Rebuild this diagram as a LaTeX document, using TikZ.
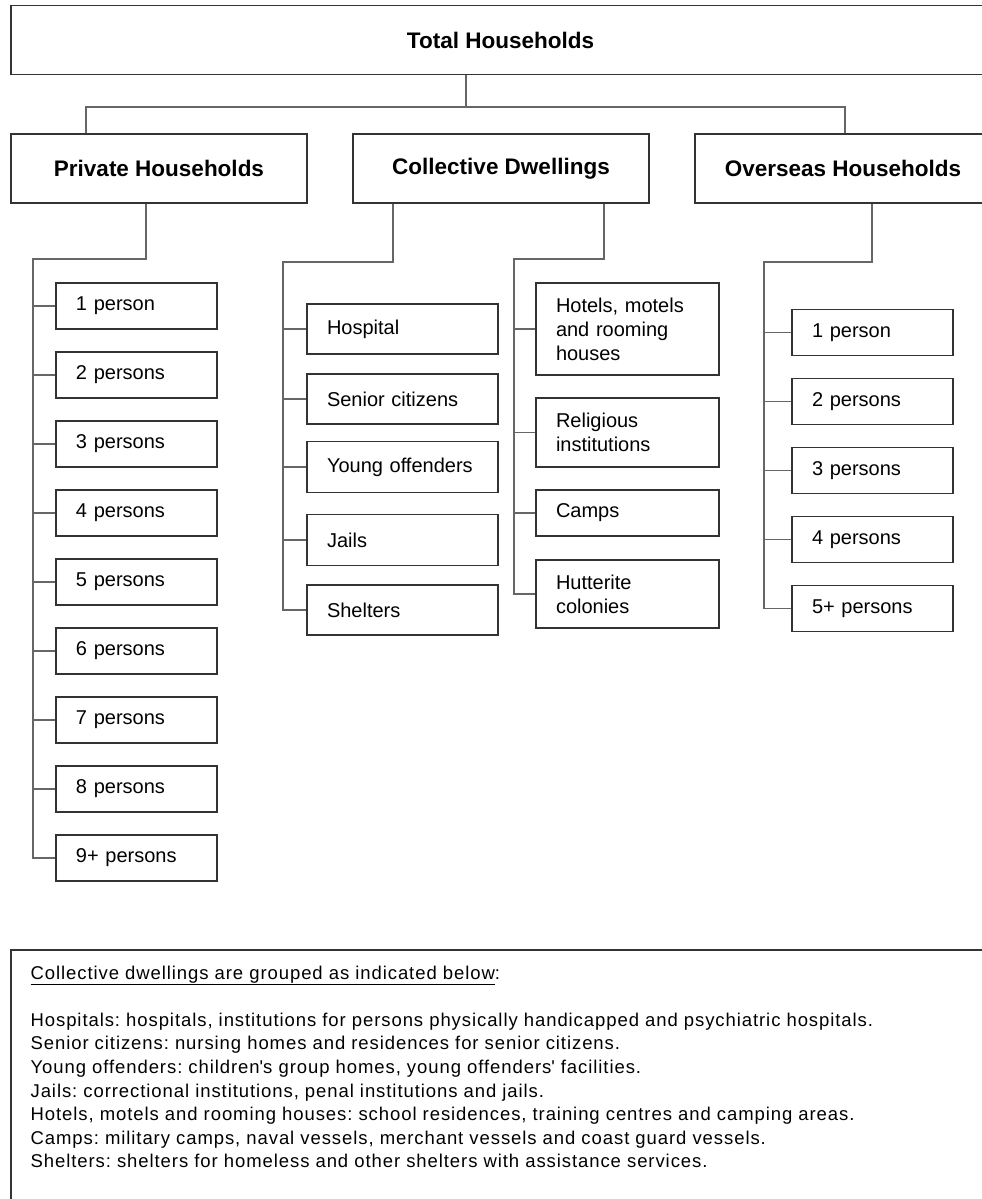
\documentclass[tikz,border=0pt]{standalone}
\usepackage{fontspec}
\setmainfont{Liberation Sans}
\newfontfamily\notesfont[LetterSpace=5]{Liberation Sans}
\usetikzlibrary{positioning}

\begin{document}
\begin{tikzpicture}[x=1bp,y=-1bp,node distance=69bp,line width=1.2bp,
                    box/.style={rectangle,draw=black!80,inner sep=0pt},
                    head node/.style={box,minimum width=296bp,minimum height=69bp,
                                      font=\fontsize{22.5bp}{27bp}\selectfont\bfseries},
                    item node/.style={box,inner xsep=20bp,align=left,
                                      font=\fontsize{20bp}{24bp}\selectfont},
                    count node/.style={item node,text width=121bp,minimum height=46bp},
                    link/.style={draw=black!60}]

  \useasboundingbox (0,0) rectangle (982,1199);

  \node[head node,minimum width=979bp] (total) at (500.5,40) {Total Households};
  \node[head node] (priv) at (159,168.5) {Private Households};
  \node[head node] (coll) at (501,168.5) {Collective Dwellings};
  \node[head node] (over) at (843,168.5) {Overseas Households};

  % private households
  \node[count node] (p1) at (136.5,306) {1 person};
  \node[count node] (p2) [below of=p1] {2 persons};
  \node[count node] (p3) [below of=p2] {3 persons};
  \node[count node] (p4) [below of=p3] {4 persons};
  \node[count node] (p5) [below of=p4] {5 persons};
  \node[count node] (p6) [below of=p5] {6 persons};
  \node[count node] (p7) [below of=p6] {7 persons};
  \node[count node] (p8) [below of=p7] {8 persons};
  \node[count node] (p9) [below of=p8] {9+ persons};

  % collective dwellings
  \node[item node,text width=151bp,minimum height=50bp] (c1) at (402.5,329) {Hospital};
  \node[item node,text width=151bp,minimum height=50bp] (c2) at (402.5,399) {Senior citizens};
  \node[item node,text width=151bp,minimum height=51bp] (c3) at (402.5,467) {Young offenders};
  \node[item node,text width=151bp,minimum height=51bp] (c4) at (402.5,540) {Jails};
  \node[item node,text width=151bp,minimum height=50bp] (c5) at (402.5,610) {Shelters};

  \node[item node,text width=143bp,minimum height=92bp] (h1) at (627.5,329) {Hotels, motels\\and rooming\\houses};
  \node[item node,text width=143bp,minimum height=69bp] (h2) at (627.5,432.5) {Religious\\institutions};
  \node[item node,text width=143bp,minimum height=46bp] (h3) at (627.5,513) {Camps};
  \node[item node,text width=143bp,minimum height=68bp] (h4) at (627.5,594) {Hutterite\\colonies};

  % overseas households
  \node[count node] (o1) at (872.5,332.5) {1 person};
  \node[count node] (o2) [below of=o1] {2 persons};
  \node[count node] (o3) [below of=o2] {3 persons};
  \node[count node] (o4) [below of=o3] {4 persons};
  \node[count node] (o5) [below of=o4] {5+ persons};

  \coordinate (bar left) at (86,107);
  \coordinate (bar mid) at (466,107);
  \coordinate (bar right) at (845,107);
  \draw[link] (total.south -| bar mid) -- (bar mid);
  \draw[link] (bar left |- priv.north) -- (bar left) -- (bar right) -- (bar right |- over.north);

  \coordinate (priv knee) at (146,259);
  \coordinate (priv spine) at (33,259);
  \draw[link] (priv.south -| priv knee) -- (priv knee) -- (priv spine) |- (p9.west);
  \draw[link] (p1.west) -- (p1.west -| priv spine) (p2.west) -- (p2.west -| priv spine)
              (p3.west) -- (p3.west -| priv spine) (p4.west) -- (p4.west -| priv spine)
              (p5.west) -- (p5.west -| priv spine) (p6.west) -- (p6.west -| priv spine)
              (p7.west) -- (p7.west -| priv spine) (p8.west) -- (p8.west -| priv spine);

  \coordinate (coll knee a) at (393,262);
  \coordinate (coll spine a) at (283,262);
  \draw[link] (coll.south -| coll knee a) -- (coll knee a) -- (coll spine a) |- (c5.west);
  \draw[link] (c1.west) -- (c1.west -| coll spine a) (c2.west) -- (c2.west -| coll spine a)
              (c3.west) -- (c3.west -| coll spine a) (c4.west) -- (c4.west -| coll spine a);

  \coordinate (coll knee b) at (604,259);
  \coordinate (coll spine b) at (514,259);
  \draw[link] (coll.south -| coll knee b) -- (coll knee b) -- (coll spine b) |- (h4.west);
  \draw[link] (h1.west) -- (h1.west -| coll spine b) (h2.west) -- (h2.west -| coll spine b)
              (h3.west) -- (h3.west -| coll spine b);

  \coordinate (over knee) at (872,262);
  \coordinate (over spine) at (764,262);
  \draw[link] (over.south -| over knee) -- (over knee) -- (over spine) |- (o5.west);
  \draw[link] (o1.west) -- (o1.west -| over spine) (o2.west) -- (o2.west -| over spine)
              (o3.west) -- (o3.west -| over spine) (o4.west) -- (o4.west -| over spine);

  % notes
  \draw[draw=black!80] (11,950) rectangle (1005,1230);
  \node[anchor=north west,inner sep=0pt,align=left,
        font=\fontsize{18.5bp}{23.6bp}\notesfont\frenchspacing] (notes) at (30,965)
    {\underline{Collective dwellings are grouped as indicated below}:\\[23.6bp]
     Hospitals: hospitals, institutions for persons physically handicapped and psychiatric hospitals.\\
     Senior citizens: nursing homes and residences for senior citizens.\\
     Young offenders: children\textquotesingle s group homes, young offenders\textquotesingle{} facilities.\\
     Jails: correctional institutions, penal institutions and jails.\\
     Hotels, motels and rooming houses: school residences, training centres and camping areas.\\
     Camps: military camps, naval vessels, merchant vessels and coast guard vessels.\\
     Shelters: shelters for homeless and other shelters with assistance services.};
\end{tikzpicture}
\end{document}
